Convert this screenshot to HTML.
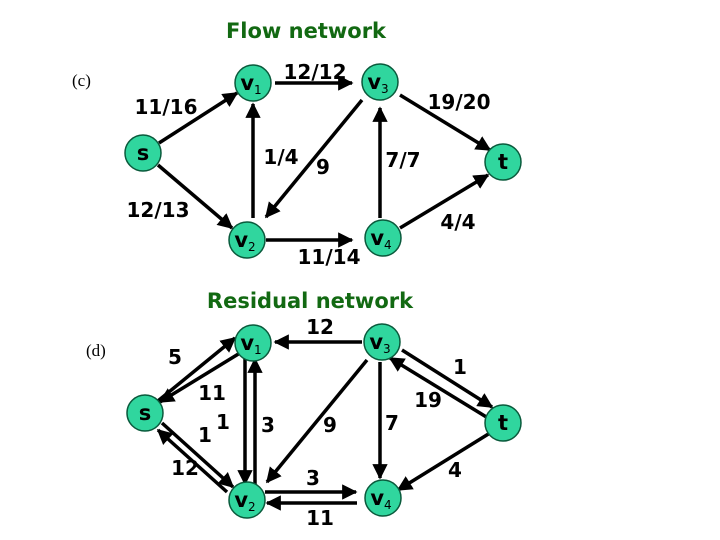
<!DOCTYPE html>
<html><head><meta charset="utf-8"><style>
html,body{margin:0;padding:0;background:#fff}
svg{display:block}
.l{font-family:"DejaVu Sans","Liberation Sans",sans-serif;font-weight:bold;font-size:20px;fill:#000;text-anchor:middle;dominant-baseline:central}
.n{font-family:"DejaVu Sans","Liberation Sans",sans-serif;font-weight:bold;font-size:21px;fill:#000;text-anchor:middle}
.sub{font-size:12px;font-weight:normal}
.t{font-family:"DejaVu Sans","Liberation Sans",sans-serif;font-weight:bold;font-size:21px;fill:#126912;text-anchor:middle}
.c{font-family:"Liberation Serif",serif;font-size:17px;fill:#000}
line{stroke:#000;stroke-width:3.5}
circle{fill:#30d69e;stroke:#0a5a3c;stroke-width:1.5}
</style></head><body>
<svg width="720" height="540" viewBox="0 0 720 540">
<defs><marker id="a" viewBox="0 0 10 10" refX="9" refY="5" markerWidth="4.4" markerHeight="4.4" orient="auto" markerUnits="strokeWidth"><path d="M0,0L10,5L0,10z" fill="#000"/></marker></defs>
<text class="t" x="306" y="38">Flow network</text>
<text class="t" x="310" y="308">Residual network</text>
<text class="c" x="72" y="86">(c)</text>
<text class="c" x="86" y="356">(d)</text>
<g marker-end="url(#a)">
<line x1="159" y1="143" x2="237" y2="93"/>
<line x1="158" y1="165" x2="232" y2="228"/>
<line x1="275" y1="83" x2="352" y2="83"/>
<line x1="253" y1="218" x2="253" y2="104"/>
<line x1="362" y1="100" x2="266" y2="217"/>
<line x1="400" y1="95" x2="490" y2="150"/>
<line x1="380" y1="218" x2="380" y2="108"/>
<line x1="266" y1="240" x2="352" y2="240"/>
<line x1="400" y1="228" x2="488" y2="175"/>

<line x1="153" y1="405" x2="235" y2="338"/>
<line x1="240" y1="353" x2="160" y2="402"/>
<line x1="162" y1="423" x2="233" y2="487"/>
<line x1="227" y1="492" x2="158" y2="430"/>
<line x1="245" y1="356" x2="245" y2="484"/>
<line x1="255" y1="488" x2="255" y2="359"/>
<line x1="362" y1="342" x2="275" y2="342"/>
<line x1="367" y1="360" x2="267" y2="482"/>
<line x1="380" y1="362" x2="380" y2="478"/>
<line x1="402" y1="350" x2="492" y2="407"/>
<line x1="488" y1="418" x2="390" y2="358"/>
<line x1="490" y1="433" x2="398" y2="490"/>
<line x1="265" y1="492" x2="356" y2="492"/>
<line x1="357" y1="503" x2="267" y2="503"/>
</g>
<g>
<circle cx="143" cy="153" r="18"/><text class="n" x="143" y="160">s</text>
<circle cx="253" cy="83" r="18"/><text class="n" x="251" y="90">v<tspan class="sub" dy="4">1</tspan></text>
<circle cx="380" cy="82" r="18"/><text class="n" x="378" y="89">v<tspan class="sub" dy="4">3</tspan></text>
<circle cx="503" cy="162" r="18"/><text class="n" x="503" y="169">t</text>
<circle cx="247" cy="240" r="18"/><text class="n" x="245" y="247">v<tspan class="sub" dy="4">2</tspan></text>
<circle cx="383" cy="238" r="18"/><text class="n" x="381" y="245">v<tspan class="sub" dy="4">4</tspan></text>

<circle cx="145" cy="413" r="18"/><text class="n" x="145" y="420">s</text>
<circle cx="253" cy="343" r="18"/><text class="n" x="251" y="350">v<tspan class="sub" dy="4">1</tspan></text>
<circle cx="382" cy="342" r="18"/><text class="n" x="380" y="349">v<tspan class="sub" dy="4">3</tspan></text>
<circle cx="503" cy="423" r="18"/><text class="n" x="503" y="430">t</text>
<circle cx="247" cy="500" r="18"/><text class="n" x="245" y="507">v<tspan class="sub" dy="4">2</tspan></text>
<circle cx="383" cy="498" r="18"/><text class="n" x="381" y="505">v<tspan class="sub" dy="4">4</tspan></text>
</g>
<g>
<text class="l" x="166" y="107">11/16</text>
<text class="l" x="315" y="72">12/12</text>
<text class="l" x="459" y="102">19/20</text>
<text class="l" x="281" y="157">1/4</text>
<text class="l" x="323" y="167">9</text>
<text class="l" x="403" y="160">7/7</text>
<text class="l" x="158" y="210">12/13</text>
<text class="l" x="458" y="222">4/4</text>
<text class="l" x="329" y="257">11/14</text>

<text class="l" x="320" y="327">12</text>
<text class="l" x="175" y="357">5</text>
<text class="l" x="460" y="367">1</text>
<text class="l" x="212" y="393">11</text>
<text class="l" x="428" y="400">19</text>
<text class="l" x="223" y="422">1</text>
<text class="l" x="268" y="425">3</text>
<text class="l" x="330" y="425">9</text>
<text class="l" x="392" y="423">7</text>
<text class="l" x="205" y="435">1</text>
<text class="l" x="185" y="468">12</text>
<text class="l" x="313" y="478">3</text>
<text class="l" x="455" y="470">4</text>
<text class="l" x="320" y="518">11</text>
</g>
</svg>
</body></html>
